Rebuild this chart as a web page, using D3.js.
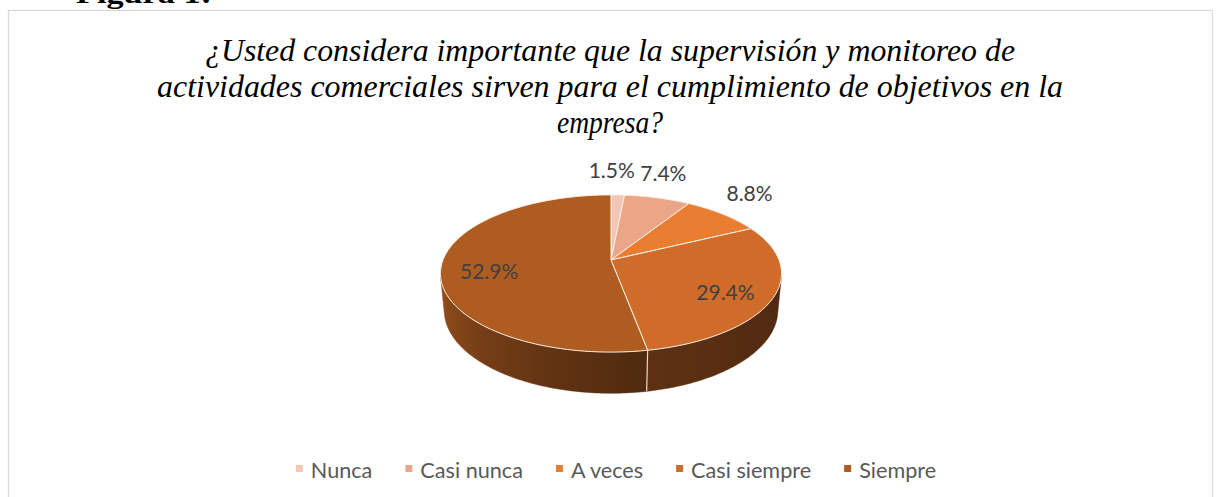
<!DOCTYPE html>
<html>
<head>
<meta charset="utf-8">
<script src="https://cdn.jsdelivr.net/npm/d3@7/dist/d3.min.js"></script>
<style>
  body { margin: 0; background: #fff; }
  svg { display: block; }
</style>
</head>
<body>
<div id="chart"></div>
<script>
// Chart data
const categories = ["Nunca", "Casi nunca", "A veces", "Casi siempre", "Siempre"];
const percentages = [1.5, 7.4, 8.8, 29.4, 52.9];
const sliceColors = ["#F2C5B4", "#EBA687", "#E97D32", "#CF6C2A", "#AF5C21"];
const titleLines = [
    "¿Usted considera importante que la supervisión y monitoreo de",
    "actividades comerciales sirven para el cumplimiento de objetivos en la",
    "empresa?"
];
const figureCaption = "Figura 1:";

const width = 1216, height = 497;

const svg = d3.select("#chart").append("svg")
    .attr("width", width)
    .attr("height", height);

const defs = svg.append("defs");

// Chart frame
svg.append("rect")
    .attr("x", 8.5).attr("y", 10.5)
    .attr("width", 1204).attr("height", 500)
    .attr("fill", "#fff")
    .attr("stroke", "#D9D9D9")
    .attr("stroke-width", 1.3);

// Caption cut at top of the page
svg.append("text")
    .attr("x", 76).attr("y", 3)
    .attr("font-family", "Liberation Serif, serif")
    .attr("font-weight", "bold")
    .attr("font-size", 28)
    .attr("textLength", 136)
    .attr("lengthAdjust", "spacingAndGlyphs")
    .attr("fill", "#000")
    .text(figureCaption);

// Title (Times italic, condensed)
const titleWidths = [810, 906, 106];
const titleG = svg.append("g");
titleLines.forEach(function(line, i){
    titleG.append("text")
        .attr("x", 610)
        .attr("y", 61 + i * 36)
        .attr("text-anchor", "middle")
        .attr("font-family", "Liberation Serif, serif")
        .attr("font-style", "italic")
        .attr("font-size", 32)
        .attr("fill", "#000")
        .attr("textLength", titleWidths[i])
        .attr("lengthAdjust", "spacingAndGlyphs")
        .text(line);
});

// 3D pie projection (perspective view of a tilted disc)
const cx = 611, cy = 260;
const tilt = 27 * Math.PI / 180;
const sinE = Math.sin(tilt), cosE = Math.cos(tilt);
const camDist = 5.19, focal = 872, depth = 0.247;

// t: angle from the back (12 o'clock) clockwise, r: radius (1 = rim), y: height
function proj(t, r, y) {
    const X = r * Math.sin(t);
    const Z = -r * Math.cos(t);
    const d = camDist - (y * sinE + Z * cosE);
    const u = y * cosE - Z * sinE;
    return [cx + focal * X / d, cy - focal * u / d];
}

function arcPoints(a0, a1, r, y) {
    const n = Math.max(2, Math.ceil((a1 - a0) / (Math.PI / 180)));
    return d3.range(n + 1).map(function(i){ return proj(a0 + (a1 - a0) * i / n, r, y); });
}

const pie = d3.pie().sort(null).value(function(d){ return d; });
const arcs = pie(percentages);

const line = d3.line();

// Visible part of the side wall
const tVisMin = Math.acos(-1 / (camDist * cosE));
const tVisMax = 2 * Math.PI - tVisMin;

// Darkening of the side wall depending on its orientation
const shadeK = d3.scaleLinear()
    .domain([100, 170, 260])
    .range([2.8, 2.2, 0.3])
    .clamp(true);
function sideColor(base, t) {
    return d3.rgb(base).darker(shadeK(t * 180 / Math.PI)).formatHex();
}

const pieG = svg.append("g");

// Side walls
arcs.forEach(function(a, i){
    const v0 = Math.max(a.startAngle, tVisMin);
    const v1 = Math.min(a.endAngle, tVisMax);
    if (v1 <= v0) return;

    const xR = proj(v0, 1, 0)[0];
    const xL = proj(v1, 1, 0)[0];
    const grad = defs.append("linearGradient")
        .attr("id", "side" + i)
        .attr("gradientUnits", "userSpaceOnUse")
        .attr("x1", xL).attr("x2", xR)
        .attr("y1", 0).attr("y2", 0);
    d3.range(11).forEach(function(k){
        const t = v1 - (v1 - v0) * k / 10;
        const x = proj(t, 1, 0)[0];
        grad.append("stop")
            .attr("offset", (x - xL) / (xR - xL))
            .attr("stop-color", sideColor(sliceColors[i], t));
    });

    const pts = arcPoints(v0, v1, 1, 0).concat(arcPoints(v0, v1, 1, -depth).reverse());
    pieG.append("path")
        .attr("d", line(pts) + "Z")
        .attr("fill", "url(#side" + i + ")")
        .attr("stroke", "url(#side" + i + ")")
        .attr("stroke-width", 0.5);
});

// Separators on the side wall
arcs.forEach(function(a){
    const t = a.startAngle;
    if (t > tVisMin && t < tVisMax) {
        const p0 = proj(t, 1, 0), p1 = proj(t, 1, -depth);
        pieG.append("line")
            .attr("x1", p0[0]).attr("y1", p0[1])
            .attr("x2", p1[0]).attr("y2", p1[1])
            .attr("stroke", "#EBD5C6")
            .attr("stroke-width", 1.2);
    }
});

// Top faces
arcs.forEach(function(a, i){
    const pts = [proj(0, 0, 0)].concat(arcPoints(a.startAngle, a.endAngle, 1, 0));
    pieG.append("path")
        .attr("d", line(pts) + "Z")
        .attr("fill", sliceColors[i])
        .attr("stroke", "#FBEFE7")
        .attr("stroke-width", 1)
        .attr("stroke-linejoin", "round");
});

// Data labels: big slices inside, small ones outside (best fit)
const fmt = d3.format(".1f");
arcs.forEach(function(a, i){
    const mid = (a.startAngle + a.endAngle) / 2;
    const inside = a.data >= 20;
    const p = inside ? proj(mid, 0.72, 0) : proj(mid, 1.27, 0);
    const lbl = pieG.append("text")
        .attr("y", inside ? p[1] + 9 : p[1] - 8)
        .attr("dominant-baseline", "middle")
        .attr("font-family", "Lato, 'Open Sans', sans-serif")
        .attr("font-size", 21)
        .attr("fill", "#404040")
        .text(fmt(a.data) + "%");
    // outside labels near the top lean to the left
    const w = lbl.node().getComputedTextLength();
    const shift = inside ? 0 : (w / 2) * (Math.sin(mid) * 0.5 - 0.35);
    lbl.attr("x", p[0] - w / 2 + shift);
});

// Legend
const legendG = svg.append("g");
const items = legendG.selectAll("g").data(categories).enter().append("g");
items.append("rect")
    .attr("width", 7).attr("height", 7)
    .attr("y", -4)
    .attr("fill", function(d, i){ return sliceColors[i]; });
items.append("text")
    .attr("x", 15)
    .attr("y", 0)
    .attr("dominant-baseline", "central")
    .attr("font-family", "Lato, 'Open Sans', sans-serif")
    .attr("font-size", 21)
    .attr("fill", "#595959")
    .text(function(d){ return d; })
    .each(function(){
        const w = this.getComputedTextLength() * 1.03;
        d3.select(this).attr("textLength", w).attr("lengthAdjust", "spacingAndGlyphs");
    });

let xPos = 0;
const gap = 33;
items.each(function(){
    const w = 15 + (+this.querySelector("text").getAttribute("textLength"));
    d3.select(this).attr("transform", "translate(" + xPos + ",0)");
    xPos += w + gap;
});
const legendW = xPos - gap;
legendG.attr("transform", "translate(" + (616 - legendW / 2) + ",469)");
</script>
</body>
</html>
